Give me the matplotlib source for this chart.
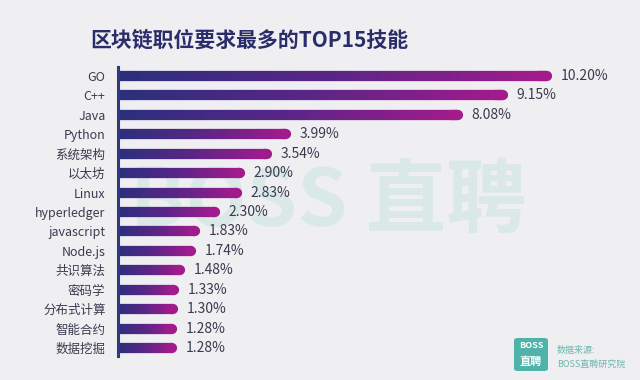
import matplotlib
matplotlib.use("Agg")
import matplotlib.pyplot as plt
import numpy as np
from matplotlib.collections import LineCollection
from matplotlib.colors import LinearSegmentedColormap
from matplotlib.patches import FancyBboxPatch

plt.rcParams['font.family'] = ['Noto Sans CJK SC', 'DejaVu Sans']

# ─── Data ──────────────────────────────────────────────────────────────
skills = ["GO", "C++", "Java", "Python", "系统架构", "以太坊", "Linux",
          "hyperledger", "javascript", "Node.js", "共识算法", "密码学",
          "分布式计算", "智能合约", "数据挖掘"]
shares = [10.20, 9.15, 8.08, 3.99, 3.54, 2.90, 2.83, 2.30, 1.83, 1.74,
          1.48, 1.33, 1.30, 1.28, 1.28]
title = "区块链职位要求最多的TOP15技能"

BG = "#efeff1"
NAVY = "#2b2d6b"
TEXT = "#3a3b4e"
TEAL = "#4fb3a9"
grad = LinearSegmentedColormap.from_list("bar", ["#2c2f7d", "#5a2587", "#a11b8c"])

fig = plt.figure(figsize=(6.4, 3.8), dpi=100, facecolor=BG)
ax = fig.add_axes([118 / 640, 1 - 356 / 380, 490 / 640, 289 / 380])
ax.set_facecolor("none")

# watermark, behind the bars
ax.text(0.43, 0.53, "BOSS 直聘", transform=ax.transAxes, fontsize=58,
        fontweight="bold", color="#dae9e8", ha="center", va="center", zorder=0)

n = len(skills)
ax.set_xlim(0, 11.65)
ax.set_ylim(n - 0.59, -0.46)

lw = 7.4
for i, v in enumerate(shares):
    xs = np.linspace(0, v, 60)
    segs = [[(xs[k], i), (xs[k + 1], i)] for k in range(len(xs) - 1)]
    cols = grad(np.linspace(0, 1, len(segs)))
    lc = LineCollection(segs, colors=cols, linewidths=lw, capstyle="butt", zorder=2)
    ax.add_collection(lc)
    # rounded end cap
    ax.plot([v * 0.98, v], [i, i], color=cols[-1], lw=lw,
            solid_capstyle="round", zorder=2)
    ax.annotate(f"{v:.2f}%", (v, i), xytext=(10, 0), textcoords="offset points",
                va="center", ha="left", fontsize=10, color=TEXT, zorder=3)

ax.set_yticks(range(n))
ax.set_yticklabels(skills, fontsize=9, color=TEXT)
ax.tick_params(axis="y", length=0, pad=9)
ax.set_xticks([])
for s in ["top", "right", "bottom"]:
    ax.spines[s].set_visible(False)
ax.spines["left"].set_color("#2f3a7e")
ax.spines["left"].set_linewidth(2.2)
ax.spines["left"].set_zorder(3)

fig.text(249 / 640, 1 - 40 / 380, title, fontsize=15, fontweight="bold",
         color=NAVY, ha="center", va="center")

# source badge
badge = FancyBboxPatch((514 / 640, 1 - 371 / 380), 34 / 640, 33 / 380,
                       boxstyle="round,pad=0,rounding_size=0.006",
                       transform=fig.transFigure, facecolor=TEAL,
                       edgecolor="none")
fig.add_artist(badge)
fig.text(531 / 640, 1 - 346 / 380, "BOSS", fontsize=6.5, fontweight="bold",
         color="white", ha="center", va="center")
fig.text(531 / 640, 1 - 362 / 380, "直聘", fontsize=8, fontweight="bold",
         color="white", ha="center", va="center")
fig.text(557 / 640, 1 - 350 / 380, "数据来源:", fontsize=6.5,
         color="#6bb8b0", ha="left", va="center")
fig.text(557 / 640, 1 - 364 / 380, "BOSS直聘研究院", fontsize=6.5,
         color="#6bb8b0", ha="left", va="center")

fig.savefig("out.png", dpi=100, facecolor=BG)
